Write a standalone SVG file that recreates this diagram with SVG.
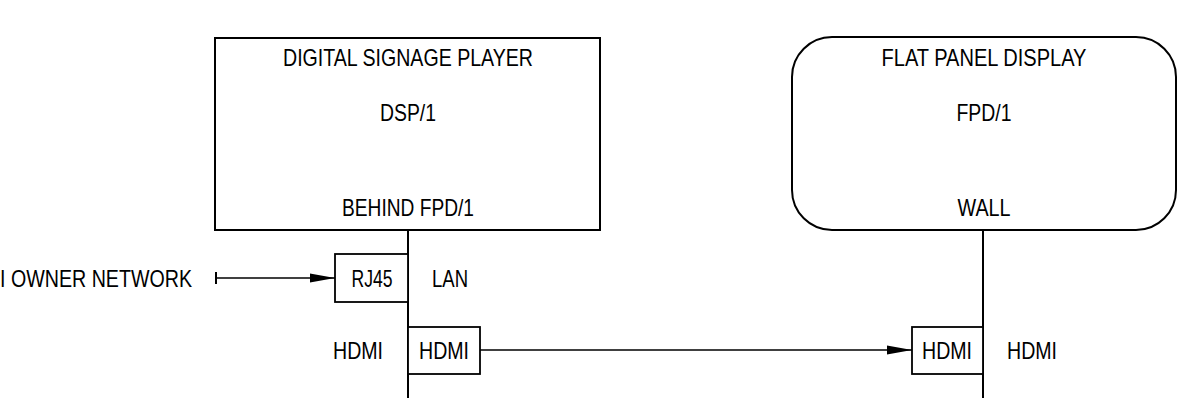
<svg xmlns="http://www.w3.org/2000/svg" width="1186" height="404" viewBox="0 0 1186 404">
  <style>
    .box { fill: #ffffff; stroke: #000000; stroke-width: 2; }
    .port { fill: #ffffff; stroke: #000000; stroke-width: 1.8; }
    .bus { stroke: #000000; stroke-width: 2; fill: none; }
    .wire { stroke: #000000; stroke-width: 1.5; fill: none; }
    text { font-family: "Liberation Sans", Arial, sans-serif; font-size: 24px; fill: #000000; text-anchor: middle; }
  </style>
  <defs>
    <marker id="arrow" viewBox="0 0 25 10" refX="25" refY="5" markerWidth="25" markerHeight="10" markerUnits="userSpaceOnUse" orient="auto">
      <path d="M0,0.5 L25,5 L0,9.5 Z" fill="#000000"/>
    </marker>
    <marker id="tick" viewBox="0 0 4 12" refX="2" refY="6" markerWidth="4" markerHeight="12" markerUnits="userSpaceOnUse" orient="auto">
      <path d="M2,0 L2,12" stroke="#000000" stroke-width="2"/>
    </marker>
  </defs>

  <g id="connectors">
    <line class="bus" x1="408" y1="230" x2="408" y2="398"/>
    <line class="bus" x1="983" y1="230" x2="983" y2="398"/>
    <line class="wire" x1="216" y1="278" x2="335" y2="278" marker-start="url(#tick)" marker-end="url(#arrow)"/>
    <line class="wire" x1="480" y1="350" x2="912" y2="350" marker-end="url(#arrow)"/>
  </g>

  <g id="dsp">
    <rect class="box" x="215" y="38" width="385" height="192"/>
    <text x="408" y="66" textLength="250" lengthAdjust="spacingAndGlyphs">DIGITAL SIGNAGE PLAYER</text>
    <text x="408" y="121" textLength="56" lengthAdjust="spacingAndGlyphs">DSP/1</text>
    <text x="408" y="216" textLength="132" lengthAdjust="spacingAndGlyphs">BEHIND FPD/1</text>
  </g>

  <g id="fpd">
    <rect class="box" x="792" y="37" width="384" height="193" rx="40" ry="40"/>
    <text x="984" y="66" textLength="205" lengthAdjust="spacingAndGlyphs">FLAT PANEL DISPLAY</text>
    <text x="984" y="121" textLength="55" lengthAdjust="spacingAndGlyphs">FPD/1</text>
    <text x="984" y="216" textLength="53" lengthAdjust="spacingAndGlyphs">WALL</text>
  </g>

  <g id="network">
    <text x="0" y="287" style="text-anchor:start" textLength="192" lengthAdjust="spacingAndGlyphs">I OWNER NETWORK</text>
  </g>

  <g id="dsp-rj45">
    <rect class="port" x="335" y="254" width="73" height="48"/>
    <text x="372" y="287" textLength="41" lengthAdjust="spacingAndGlyphs">RJ45</text>
    <text x="450" y="287" textLength="36" lengthAdjust="spacingAndGlyphs">LAN</text>
  </g>

  <g id="dsp-hdmi">
    <rect class="port" x="408" y="327" width="72" height="47"/>
    <text x="444" y="359" textLength="50" lengthAdjust="spacingAndGlyphs">HDMI</text>
    <text x="358" y="359" textLength="50" lengthAdjust="spacingAndGlyphs">HDMI</text>
  </g>

  <g id="fpd-hdmi">
    <rect class="port" x="912" y="327" width="71" height="47"/>
    <text x="947" y="359" textLength="50" lengthAdjust="spacingAndGlyphs">HDMI</text>
    <text x="1032" y="359" textLength="50" lengthAdjust="spacingAndGlyphs">HDMI</text>
  </g>
</svg>
